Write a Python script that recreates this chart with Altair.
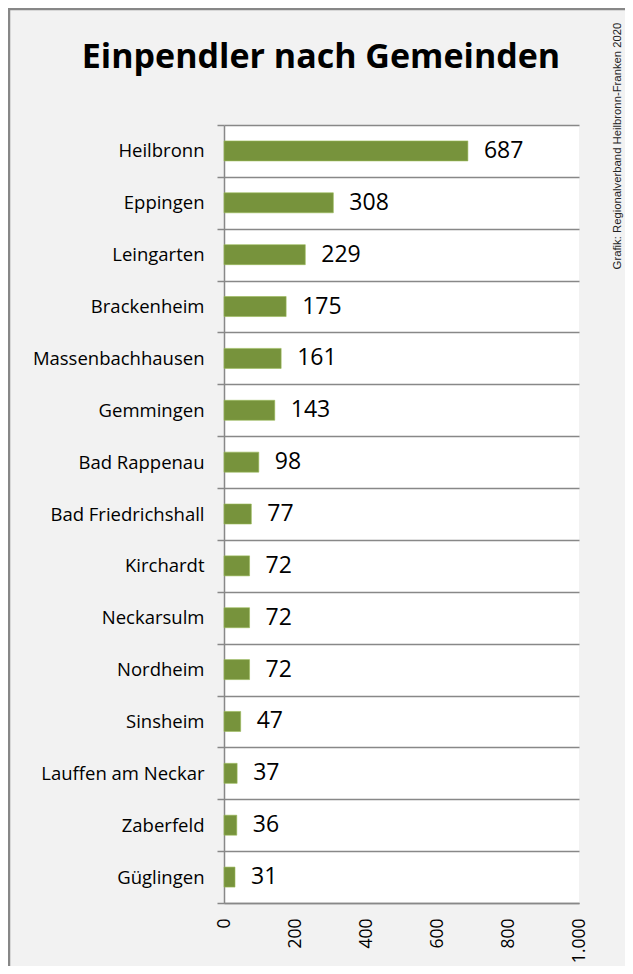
import altair as alt
import pandas as pd

gemeinden = ["Heilbronn", "Eppingen", "Leingarten", "Brackenheim", "Massenbachhausen",
             "Gemmingen", "Bad Rappenau", "Bad Friedrichshall", "Kirchardt", "Neckarsulm",
             "Nordheim", "Sinsheim", "Lauffen am Neckar", "Zaberfeld", "Güglingen"]
einpendler = [687, 308, 229, 175, 161, 143, 98, 77, 72, 72, 72, 47, 37, 36, 31]
x_ticks = [0, 200, 400, 600, 800, 1000]
title_text = ["Einpendler nach Gemeinden"]
credit_text = ["Grafik: Regionalverband Heilbronn-Franken 2020"]

df = pd.DataFrame({"Gemeinde": gemeinden, "Einpendler": einpendler})

GRAY = "#888888"
FONT = "Open Sans"

y_enc = alt.Y("Gemeinde:N", sort=gemeinden,
              scale=alt.Scale(paddingInner=0, paddingOuter=0),
              axis=alt.Axis(title=None, grid=True, gridColor=GRAY, gridWidth=1.5,
                            tickBand="extent", tickSize=7, tickColor=GRAY, tickWidth=1.5,
                            domainColor=GRAY, domainWidth=1.5,
                            labelFont=FONT, labelFontSize=18.5, labelColor="black",
                            labelPadding=13))
x_enc = alt.X("Einpendler:Q", scale=alt.Scale(domain=[0, 1000], nice=False),
              axis=alt.Axis(title=None, values=x_ticks, grid=False, ticks=False,
                            domainColor=GRAY, domainWidth=1.5,
                            labelAngle=270, labelPadding=15,
                            labelFont=FONT, labelFontSize=17.5, labelColor="black",
                            labelExpr="replace(format(datum.value, ','), ',', '.')"))

bars = alt.Chart(df).mark_bar(size=20, color="#77933C", stroke="#9bbb59", strokeWidth=0.6).encode(
    x=x_enc, y=y_enc)

labels = alt.Chart(df).mark_text(align="left", baseline="middle", dx=16,
                                 font=FONT, fontSize=23, color="black").encode(
    x="Einpendler:Q", y=alt.Y("Gemeinde:N", sort=gemeinden), text="Einpendler:Q")

title = alt.Chart(pd.DataFrame({"t": title_text})).mark_text(
    font=FONT, fontSize=34, fontWeight="bold", color="black",
    align="center", baseline="alphabetic").encode(
    x=alt.value(97), y=alt.value(-57), text="t:N")

credit = alt.Chart(pd.DataFrame({"t": credit_text})).mark_text(
    font="Liberation Sans", fontSize=11.3, color="#222222",
    angle=270, align="center", baseline="middle").encode(
    x=alt.value(394), y=alt.value(21), text="t:N")

frame_left = alt.Chart(pd.DataFrame({"a": [0]})).mark_rule(color="#878787", strokeWidth=2.5).encode(
    x=alt.value(-215), y=alt.value(-117), y2=alt.value(900))
frame_top = alt.Chart(pd.DataFrame({"a": [0]})).mark_rule(color="#878787", strokeWidth=2.5).encode(
    x=alt.value(-216), x2=alt.value(500), y=alt.value(-116))

chart = alt.layer(bars, labels, title, credit, frame_left, frame_top).properties(
    width=355, height=778,
    background="#f2f2f2",
    padding={"left": 216, "top": 117, "right": 46, "bottom": 63},
    autosize=alt.AutoSizeParams(type="none"),
).configure_view(stroke=None, fill="white")

chart.save("out.html", embed_options={"renderer": "svg", "actions": False})
